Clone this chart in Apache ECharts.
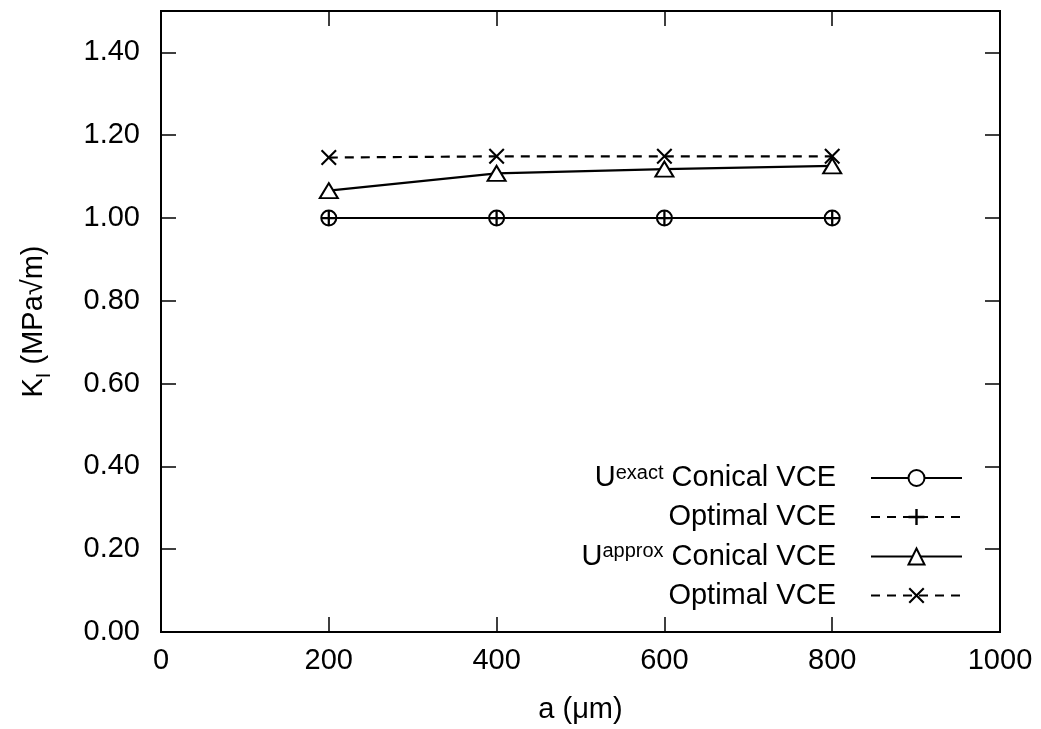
<!DOCTYPE html>
<html>
<head>
<meta charset="utf-8">
<script src="https://cdn.jsdelivr.net/npm/echarts@6/dist/echarts.min.js"></script>
<style>
html,body{margin:0;padding:0;background:#fff;}
#c{width:1041px;height:729px;}
</style>
</head>
<body>
<div id="c"></div>
<script>
// Data
const aValues = [200, 400, 600, 800];
const exactConical = [1.000, 1.000, 1.000, 1.000];
const exactOptimal = [1.000, 1.000, 1.000, 1.000];
const approxConical = [1.066, 1.108, 1.118, 1.126];
const approxOptimal = [1.146, 1.149, 1.149, 1.149];
const seriesNames = ['exactConical', 'exactOptimal', 'approxConical', 'approxOptimal'];
const legendLabels = {
  exactConical: '{sup|U}{s|exact}{n| Conical VCE}',
  exactOptimal: '{n|Optimal VCE}',
  approxConical: '{sup|U}{s|approx}{n| Conical VCE}',
  approxOptimal: '{n|Optimal VCE}'
};
const xTicks = [0, 200, 400, 600, 800, 1000];

const FONT = '"Liberation Sans", Arial, sans-serif';
const FS = 29;

function pairs(ys) { return aValues.map((x, i) => [x, ys[i]]); }

const plusPath = 'path://M6.8,0h2.4v6.8h6.8v2.4h-6.8v6.8h-2.4v-6.8h-6.8v-2.4h6.8z';
const crossPath = 'path://M0,1.5L1.5,0L8,6.5L14.5,0L16,1.5L9.5,8L16,14.5L14.5,16L8,9.5L1.5,16L0,14.5L6.5,8Z';

const chart = echarts.init(document.getElementById('c'), null, {renderer: 'canvas'});

const axisCommon = {
  axisLine: {show: false, onZero: false},
  splitLine: {show: false},
  axisTick: {show: true, inside: true, length: 15, lineStyle: {color: '#000', width: 1.5}}
};

const option = {
  animation: false,
  backgroundColor: '#fff',
  grid: {left: 161, right: 41, top: 11, bottom: 97, show: true, borderColor: '#000', borderWidth: 2, backgroundColor: 'transparent'},
  xAxis: [
    Object.assign({}, axisCommon, {
      type: 'value', min: 0, max: 1000, interval: 200, position: 'bottom',
      name: 'a (\u03bcm)', nameLocation: 'middle', nameGap: 63,
      nameTextStyle: {fontFamily: FONT, fontSize: FS, color: '#000'},
      axisLabel: {show: true, margin: 14, fontFamily: FONT, fontSize: FS, color: '#000',
        formatter: v => String(v)}
    }),
    Object.assign({}, axisCommon, {
      type: 'value', min: 0, max: 1000, interval: 200, position: 'top',
      axisLabel: {show: false}
    })
  ],
  yAxis: [
    Object.assign({}, axisCommon, {
      type: 'value', min: 0, max: 1.5, interval: 0.2, position: 'left',
      name: '{k|K}{sub|I}{k| (MPa\u221am)}', nameLocation: 'middle', nameGap: 107,
      nameTextStyle: {fontFamily: FONT, fontSize: FS, color: '#000',
        rich: {
          k: {fontFamily: FONT, fontSize: FS, color: '#000', lineHeight: 40},
          sub: {fontFamily: FONT, fontSize: 20, color: '#000', verticalAlign: 'bottom', lineHeight: 20}
        }},
      axisLabel: {show: true, margin: 21, fontFamily: FONT, fontSize: FS, color: '#000', showMaxLabel: false,
        formatter: v => (v > 1.45 ? '' : v.toFixed(2))}
    }),
    Object.assign({}, axisCommon, {
      type: 'value', min: 0, max: 1.5, interval: 0.2, position: 'right',
      axisLabel: {show: false}
    })
  ],
  legend: {
    show: true,
    orient: 'vertical',
    right: 78,
    top: 463,
    padding: 0,
    align: 'right',
    itemWidth: 91,
    itemHeight: 20,
    itemGap: 10,
    data: seriesNames,
    formatter: name => legendLabels[name],
    textStyle: {
      fontFamily: FONT, fontSize: FS, color: '#000',
      width: 330, align: 'right', padding: [0, 30, 0, 0],
      rich: {
        n: {fontFamily: FONT, fontSize: FS, color: '#000', lineHeight: 30},
        sup: {fontFamily: FONT, fontSize: FS, color: '#000', lineHeight: 30},
        s: {fontFamily: FONT, fontSize: 20, color: '#000', verticalAlign: 'top', lineHeight: 4}
      }
    }
  },
  series: [
    {
      name: 'exactConical', type: 'line', data: pairs(exactConical),
      symbol: 'emptyCircle', symbolSize: 15,
      lineStyle: {color: '#000', width: 2.2, type: 'solid'},
      itemStyle: {color: '#000', borderColor: '#000', borderWidth: 2.2},
      z: 2
    },
    {
      name: 'exactOptimal', type: 'line', data: pairs(exactOptimal),
      symbol: plusPath, symbolSize: 15,
      lineStyle: {color: '#000', width: 2.2, type: [9, 7]},
      itemStyle: {color: '#000', borderWidth: 0},
      z: 3
    },
    {
      name: 'approxConical', type: 'line', data: pairs(approxConical),
      symbol: 'emptyTriangle', symbolSize: [18, 15],
      lineStyle: {color: '#000', width: 2.2, type: 'solid'},
      itemStyle: {color: '#000', borderColor: '#000', borderWidth: 2.5},
      z: 2
    },
    {
      name: 'approxOptimal', type: 'line', data: pairs(approxOptimal),
      symbol: crossPath, symbolSize: 16,
      lineStyle: {color: '#000', width: 2.2, type: [9, 7]},
      itemStyle: {color: '#000', borderWidth: 0},
      z: 3
    }
  ]
};
chart.setOption(option);
</script>
</body>
</html>
